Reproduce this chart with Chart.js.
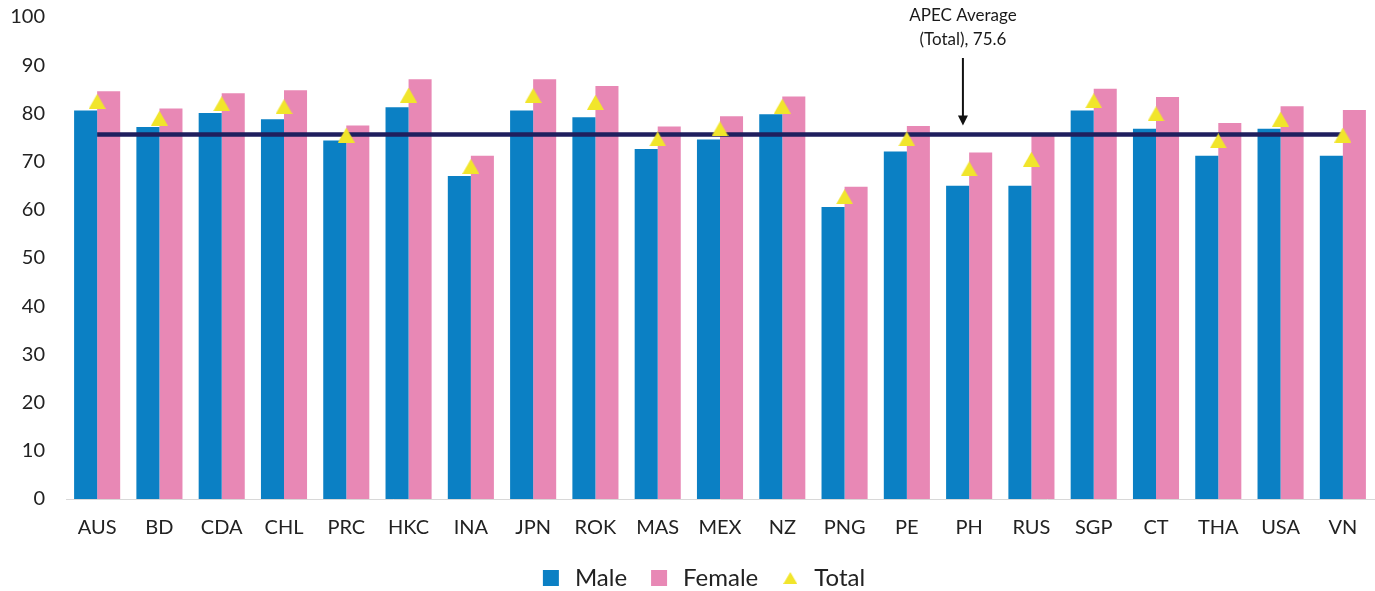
<!DOCTYPE html>
<html>
<head>
<meta charset="utf-8">
<script src="https://cdn.jsdelivr.net/npm/chart.js@4.4.1/dist/chart.umd.min.js"></script>
<style>
  html, body { margin: 0; padding: 0; background: #ffffff; }
  #wrap { position: relative; width: 1375px; height: 591px; }
</style>
</head>
<body>
<div id="wrap"><canvas id="chart" width="1375" height="591"></canvas></div>
<script>
// Life expectancy at birth by economy (years)
const economies = ['AUS','BD','CDA','CHL','PRC','HKC','INA','JPN','ROK','MAS','MEX',
                   'NZ','PNG','PE','PH','RUS','SGP','CT','THA','USA','VN'];
const maleValues   = [80.6, 77.2, 80.1, 78.8, 74.4, 81.3, 67.0, 80.6, 79.2, 72.6, 74.6,
                      79.8, 60.6, 72.1, 65.0, 65.0, 80.6, 76.8, 71.2, 76.8, 71.2];
const femaleValues = [84.6, 81.0, 84.2, 84.8, 77.5, 87.1, 71.2, 87.1, 85.7, 77.3, 79.4,
                      83.5, 64.8, 77.4, 71.9, 75.9, 85.1, 83.4, 78.0, 81.5, 80.7];
const totalValues  = [82.5, 79.0, 82.0, 81.4, 75.5, 83.8, 69.0, 83.7, 82.3, 74.7, 76.8,
                      81.5, 62.7, 74.7, 68.5, 70.5, 82.6, 79.9, 74.3, 78.8, 75.5];
const apecAverage = 75.6;
const yTicks = { min: 0, max: 100, step: 10 };

const BLUE = '#0b80c4';
const PINK = '#e888b5';
const YELLOW = '#f1e52b';
const NAVY = '#1f1f5e';

// Triangle marker image, centred on its point by Chart.js
function triangleImage(w, h, color) {
  const c = document.createElement('canvas');
  c.width = w; c.height = h;
  const g = c.getContext('2d');
  g.fillStyle = color;
  g.beginPath();
  g.moveTo(0, h);
  g.lineTo(w / 2, 0);
  g.lineTo(w, h);
  g.closePath();
  g.fill();
  return c;
}
const triMarker = triangleImage(17, 15, YELLOW);
const triLegend = triangleImage(14, 12, YELLOW);

// Callout with arrow pointing to the average line
const calloutPlugin = {
  id: 'callout',
  afterDatasetsDraw(chart) {
    const { ctx, scales: { x, y } } = chart;
    const ax = x.getPixelForValue(13.9);
    const tipY = y.getPixelForValue(apecAverage) - 9;
    const topY = 58;
    ctx.save();
    ctx.strokeStyle = '#111111';
    ctx.fillStyle = '#111111';
    ctx.lineWidth = 2;
    ctx.beginPath();
    ctx.moveTo(ax, topY);
    ctx.lineTo(ax, tipY - 8);
    ctx.stroke();
    ctx.beginPath();
    ctx.moveTo(ax - 5, tipY - 10);
    ctx.lineTo(ax + 5, tipY - 10);
    ctx.lineTo(ax, tipY);
    ctx.closePath();
    ctx.fill();
    ctx.font = '17px Lato';
    ctx.fillStyle = '#1a1a1a';
    ctx.textAlign = 'center';
    ctx.textBaseline = 'middle';
    ctx.fillText('APEC Average', ax, 16);
    ctx.fillText('(Total), 75.6', ax, 40);
    ctx.restore();
  }
};

// Nudge the legend row to sit a little right of the canvas centre
const legendOffsetPlugin = {
  id: 'legendOffset',
  afterLayout(chart) {
    if (chart.legend) {
      chart.legend.left += 15;
      chart.legend.right += 15;
    }
  }
};

new Chart(document.getElementById('chart'), {
  type: 'bar',
  data: {
    labels: economies,
    datasets: [
      { label: 'Male', data: maleValues, backgroundColor: BLUE, order: 2,
        barPercentage: 1.0, categoryPercentage: 0.74 },
      { label: 'Female', data: femaleValues, backgroundColor: PINK, order: 3,
        barPercentage: 1.0, categoryPercentage: 0.74 },
      { label: 'Total', type: 'line', data: totalValues, showLine: false, order: 0,
        pointStyle: triMarker, pointRadius: 8, pointHoverRadius: 8,
        backgroundColor: YELLOW, borderColor: YELLOW },
      { label: 'APEC Average', type: 'line', data: economies.map(() => apecAverage),
        borderColor: NAVY, borderWidth: 4.5, pointRadius: 0, order: 1 }
    ]
  },
  options: {
    responsive: false,
    animation: false,
    devicePixelRatio: 1,
    layout: { autoPadding: false, padding: { top: 0, left: 0, right: 1, bottom: -9 } },
    plugins: {
      tooltip: { enabled: false },
      legend: {
        position: 'bottom',
        labels: {
          font: { family: 'Lato', size: 24 },
          color: '#222222',
          usePointStyle: true,
          boxHeight: 16,
          padding: 20,
          filter: (item) => item.text !== 'APEC Average',
          generateLabels(chart) {
            return chart.data.datasets.map((ds, i) => ({
              text: ds.label,
              fillStyle: ds.label === 'Female' ? PINK : (ds.label === 'Male' ? BLUE : YELLOW),
              strokeStyle: 'rgba(0,0,0,0)',
              lineWidth: 0,
              pointStyle: ds.label === 'Total' ? triLegend : 'rect',
              fontColor: '#222222',
              datasetIndex: i,
              hidden: false
            }));
          }
        }
      }
    },
    scales: {
      x: {
        grid: { display: false, drawTicks: false },
        border: { display: true, color: '#d8d8d8', width: 1 },
        ticks: { font: { family: 'Lato', size: 20 }, color: '#222222', padding: 17,
                 maxRotation: 0, autoSkip: false },
        afterFit(scale) {
          scale.height = 47;
          scale.paddingLeft = 0;
          scale.paddingRight = 0;
        }
      },
      y: {
        min: yTicks.min, max: yTicks.max,
        grid: { display: false, drawTicks: false },
        border: { display: false },
        ticks: { stepSize: yTicks.step, font: { family: 'Lato', size: 20 },
                 color: '#222222', padding: 21 },
        afterFit(scale) {
          scale.width = 66;
          scale.paddingTop = 17;
          scale.paddingBottom = 0;
        }
      }
    }
  },
  plugins: [calloutPlugin, legendOffsetPlugin]
});
</script>
</body>
</html>
